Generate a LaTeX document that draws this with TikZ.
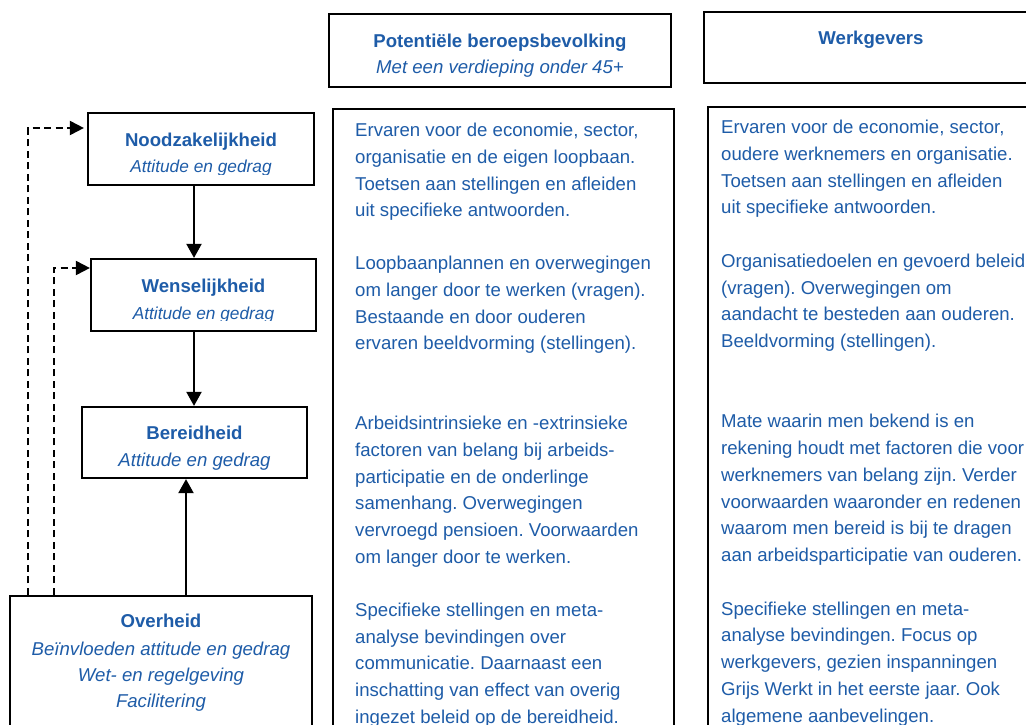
\documentclass[tikz,border=0pt]{standalone}
\usepackage{fontspec}
\setmainfont{Liberation Sans}
\usetikzlibrary{arrows.meta}
\definecolor{diagblue}{RGB}{30,92,168}
\frenchspacing
\tikzset{
  box/.style={draw=black, line width=2.2pt, rectangle, inner sep=0pt},
  ttl/.style={text=diagblue, font=\bfseries\fontsize{18.6pt}{22pt}\selectfont, inner sep=0pt, anchor=base},
  sub/.style={text=diagblue, font=\itshape\fontsize{18.6pt}{22pt}\selectfont, inner sep=0pt, anchor=base},
  subsm/.style={text=diagblue, font=\itshape\fontsize{17.3pt}{21pt}\selectfont, inner sep=0pt, anchor=base},
  bodytext/.style={text=diagblue, font=\fontsize{18.6pt}{22pt}\selectfont, inner sep=0pt, anchor=base west},
  flow/.style={line width=2pt, -{Triangle[length=14pt,width=15pt]}},
  loopback/.style={line width=2pt, dash pattern=on 7pt off 4.5pt, -{Triangle[length=14pt,width=14pt]}},
}
\begin{document}
\begin{tikzpicture}[x=1pt,y=1pt]
\useasboundingbox (0,0) rectangle (1026,-724);
\clip (0,0) rectangle (1026,-724);
\fill[white] (0,0) rectangle (1026,-724);

% column headers
\node[box, minimum width=342pt, minimum height=73pt] (hdrpop) at (500,-50.5) {};
\node[ttl] (hdrpopt) at (500,-47.7) {Potentiële beroepsbevolking};
\node[sub] (hdrpops) at (500,-73.3) {Met een verdieping onder 45+};

\node[box, minimum width=334pt, minimum height=71pt] (hdrwg) at (871,-47.5) {};
\node[ttl] (hdrwgt) at (871,-44.3) {Werkgevers};

% column bodies (run past the lower edge)
\node[box, minimum width=341pt, minimum height=640pt] (colpop) at (503.5,-429) {};
\node[box, minimum width=332pt, minimum height=640pt] (colwg) at (874,-427) {};

% left-hand chain of boxes
\node[box, minimum width=226pt, minimum height=72pt] (nood) at (201,-149) {};
\node[ttl] (noodt) at (201,-146) {Noodzakelijkheid};
\begin{scope}
  \clip (88,-113) rectangle (314,-174.4);
  \node[subsm] (noods) at (201,-172.7) {Attitude en gedrag};
\end{scope}

\node[box, minimum width=225pt, minimum height=72pt] (wens) at (203.5,-295) {};
\node[ttl] (wenst) at (203.5,-292.3) {Wenselijkheid};
\begin{scope}
  \clip (91,-259) rectangle (316,-320.6);
  \node[subsm] (wenss) at (203.5,-319) {Attitude en gedrag};
\end{scope}

\node[box, minimum width=225pt, minimum height=71pt] (bereid) at (194.5,-442.5) {};
\node[ttl] (bereidt) at (194.5,-439.3) {Bereidheid};
\node[sub] (bereids) at (194.5,-466) {Attitude en gedrag};

\node[box, minimum width=302pt, minimum height=150pt] (overheid) at (161,-671) {};
\node[ttl] (overheidt) at (161,-627.7) {Overheid};
\node[sub] (overheid1) at (161,-655) {Beïnvloeden attitude en gedrag};
\node[sub] (overheid2) at (161,-681.7) {Wet- en regelgeving};
\node[sub] (overheid3) at (161,-707.7) {Facilitering};

% connectors
\coordinate (ax) at (194,0);
\coordinate (bx) at (186,0);
\draw[flow] (nood.south -| ax) -- (wens.north -| ax);
\draw[flow] (wens.south -| ax) -- (bereid.north -| ax);
\draw[flow] (overheid.north -| bx) -- (bereid.south -| bx);

\coordinate (outerturn) at (28,-128);
\coordinate (innerturn) at (54,-268);
\draw[loopback] (overheid.north -| outerturn) -- (outerturn) -- ([xshift=-3pt]outerturn -| nood.west);
\draw[loopback] (overheid.north -| innerturn) -- (innerturn) -- (innerturn -| wens.west);

% text of the population column
\foreach \n/\t in {
  0/{Ervaren voor de economie, sector,},
  1/{organisatie en de eigen loopbaan.},
  2/{Toetsen aan stellingen en afleiden},
  3/{uit specifieke antwoorden.},
  5/{Loopbaanplannen en overwegingen},
  6/{om langer door te werken (vragen).},
  7/{Bestaande en door ouderen},
  8/{ervaren beeldvorming (stellingen).},
  11/{Arbeidsintrinsieke en -extrinsieke},
  12/{factoren van belang bij arbeids-},
  13/{participatie en de onderlinge},
  14/{samenhang. Overwegingen},
  15/{vervroegd pensioen. Voorwaarden},
  16/{om langer door te werken.},
  18/{Specifieke stellingen en meta-},
  19/{analyse bevindingen over},
  20/{communicatie. Daarnaast een},
  21/{inschatting van effect van overig},
  22/{ingezet beleid op de bereidheid.}}
  \node[bodytext] (pop\n) at (355, {-136.7-\n*26.65}) {\t};

% text of the employers column
\foreach \n/\t in {
  0/{Ervaren voor de economie, sector,},
  1/{oudere werknemers en organisatie.},
  2/{Toetsen aan stellingen en afleiden},
  3/{uit specifieke antwoorden.},
  5/{Organisatiedoelen en gevoerd beleid},
  6/{(vragen). Overwegingen om},
  7/{aandacht te besteden aan ouderen.},
  8/{Beeldvorming (stellingen).},
  11/{Mate waarin men bekend is en},
  12/{rekening houdt met factoren die voor},
  13/{werknemers van belang zijn. Verder},
  14/{voorwaarden waaronder en redenen},
  15/{waarom men bereid is bij te dragen},
  16/{aan arbeidsparticipatie van ouderen.},
  18/{Specifieke stellingen en meta-},
  19/{analyse bevindingen. Focus op},
  20/{werkgevers, gezien inspanningen},
  21/{Grijs Werkt in het eerste jaar. Ook},
  22/{algemene aanbevelingen.}}
  \node[bodytext] (wg\n) at (721, {-133.5-\n*26.75}) {\t};
\end{tikzpicture}
\end{document}
